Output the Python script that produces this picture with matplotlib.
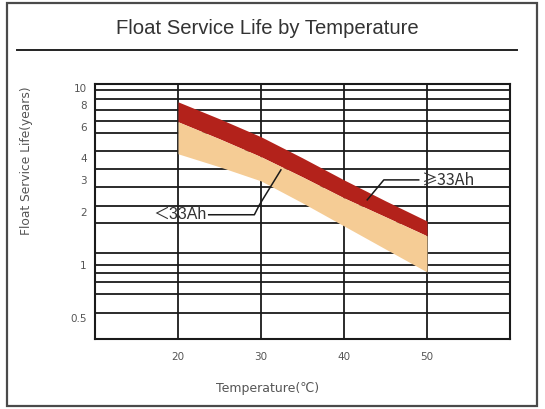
import numpy as np
import matplotlib
matplotlib.use("Agg")
import matplotlib.pyplot as plt
from matplotlib.patches import Rectangle
from matplotlib.lines import Line2D

# data
temps = [20, 25, 30, 35, 40, 45, 50]
upper_33 = [8.33, 6.68, 5.29, 4.02, 3.02, 2.30, 1.77]   # top of >=33Ah band
mid_line = [6.43, 5.15, 4.08, 3.14, 2.39, 1.87, 1.46]   # boundary between bands
lower_33 = [4.24, 3.58, 2.98, 2.24, 1.66, 1.23, 0.913]  # bottom of <33Ah band

x_grid = [20, 30, 40, 50]
y_grid = [9.74, 8.63, 7.51, 6.51, 5.59, 4.41, 3.49, 2.77, 2.15, 1.73,
          1.17, 1.0, 0.898, 0.798, 0.686, 0.533]
y_ticks = [0.5, 1, 2, 3, 4, 6, 8, 10]
y_tick_labels = ["0.5", "1", "2", "3", "4", "6", "8", "10"]
x_ticks = [20, 30, 40, 50]

fig = plt.figure(figsize=(5.45, 4.09), dpi=100)

# outer frame + title rule
fig.patches.append(Rectangle((7 / 545, 3 / 409), 530 / 545, 403 / 409,
                             transform=fig.transFigure, fill=False,
                             edgecolor="#4a4a4a", linewidth=1.6))
fig.lines.append(Line2D([17 / 545, 517 / 545], [1 - 50 / 409, 1 - 50 / 409],
                        transform=fig.transFigure, color="#222222", linewidth=1.4))
fig.text(267 / 545, 1 - 28 / 409, "Float Service Life by Temperature",
         ha="center", va="center", fontsize=14.6, color="#333333",
         family="Liberation Sans")

ax = fig.add_axes([95 / 545, 70 / 409, 415 / 545, 255 / 409])
ax.set_yscale("log")
ax.set_xlim(10, 60)
ax.set_ylim(0.382, 10.5)

for y in y_grid:
    ax.axhline(y, color="#1a1a1a", linewidth=1.3, zorder=1)
for x in x_grid:
    ax.axvline(x, color="#1a1a1a", linewidth=1.3, zorder=1)

ax.fill_between(temps, mid_line, upper_33, color="#b3221b", linewidth=0, zorder=2)
ax.fill_between(temps, lower_33, mid_line, color="#f5cc95", linewidth=0, zorder=2)

# callouts
ax.plot([23.7, 29.2, 29.8, 32.4], [1.92, 1.92, 2.18, 3.44],
        color="#1a1a1a", linewidth=1.1, zorder=3)
ax.text(23.5, 1.92, "＜33Ah", ha="right", va="center", fontsize=11.5,
        color="#333333", family=["Liberation Sans", "Noto Sans CJK SC"], zorder=3)
ax.plot([42.8, 44.8, 49.0], [2.33, 3.02, 3.02],
        color="#1a1a1a", linewidth=1.1, zorder=3)
ax.text(49.3, 3.02, "≥33Ah", ha="left", va="center", fontsize=11.5,
        color="#333333", family=["Noto Sans CJK SC", "DejaVu Sans"], zorder=3)

ax.set_yticks(y_ticks)
ax.set_yticklabels(y_tick_labels)
ax.yaxis.set_minor_locator(matplotlib.ticker.NullLocator())
ax.set_xticks(x_ticks)
ax.tick_params(axis="both", length=0, labelsize=7.5, labelcolor="#555555")
ax.tick_params(axis="y", pad=6)
ax.tick_params(axis="x", pad=9)

for s in ax.spines.values():
    s.set_linewidth(1.5)
    s.set_color("#1a1a1a")

ax.set_ylabel("Float Service Life(years)", fontsize=8.8, color="#555555")
ax.yaxis.set_label_coords(-0.149, 0.70)
ax.set_xlabel("Temperature(℃)", fontsize=9, color="#555555")
ax.xaxis.set_label_coords(0.417, -0.169)

fig.savefig("out.png", dpi=100)
